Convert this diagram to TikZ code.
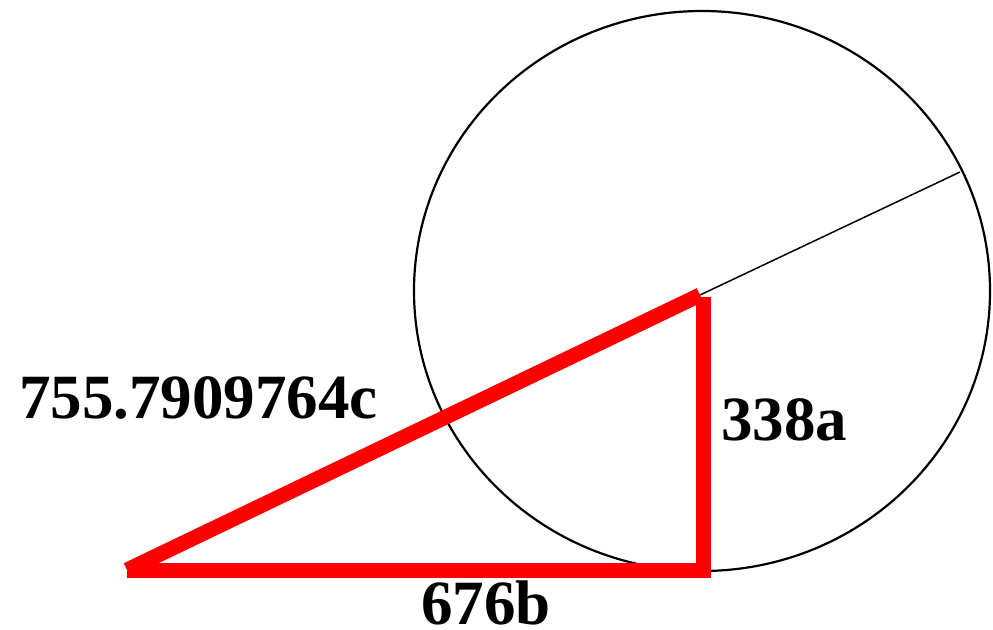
\documentclass[tikz,border=0pt]{standalone}
\usepackage{fontspec}
\setmainfont{Liberation Serif}
\usetikzlibrary{calc}
\begin{document}
\begin{tikzpicture}[x=1pt,y=-1pt,
  redline/.style={draw=red,line width=15pt,line cap=butt},
  lbl/.style={inner sep=0pt,anchor=base west,font=\fontsize{63}{76}\selectfont\bfseries}]
\useasboundingbox (0,0) rectangle (993,629);
\coordinate (O) at (702,291);
\coordinate (C) at (127,570);
\coordinate (B) at (703,570);
\coordinate (A) at (703,297);
\coordinate (T) at (700,295);
\coordinate (R) at (960,172);
\draw[line width=2.2pt] (O) ellipse [x radius=288, y radius=280];
\draw[line width=1.5pt] (T) -- (R);
\draw[redline] (C) -- (T);
\draw[redline] (C) -- (B);
\draw[redline] (A) -- ($(B)+(0,7.5)$);
\node[lbl] (lc) at (19,418) {755.7909764c};
\node[lbl] (la) at (721,440) {338a};
\node[lbl] (lb) at (421,624) {676b};
\end{tikzpicture}
\end{document}
